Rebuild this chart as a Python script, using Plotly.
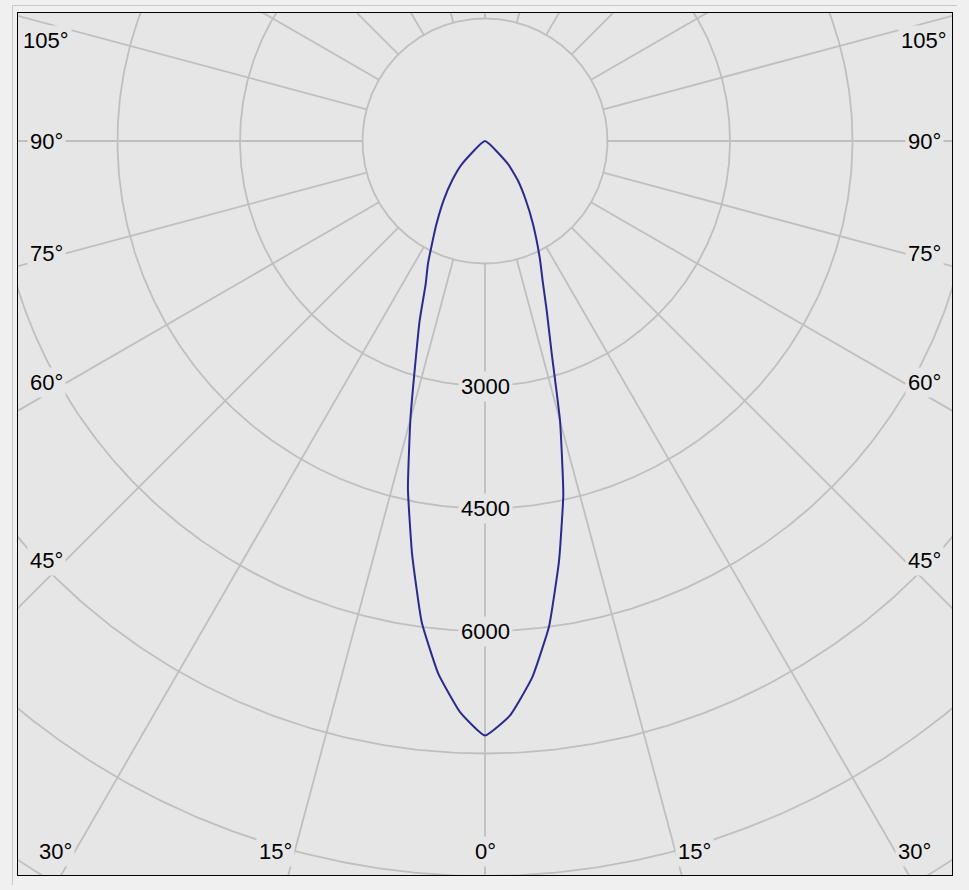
import numpy as np
import plotly.graph_objects as go

# ---- data ----
gamma_deg = [0, 2.5, 5, 7.5, 10, 12.5, 15, 17.5, 20, 22.5, 25, 30, 35, 40, 45, 50,
             60, 75, 90, 105, 120, 135, 150, 165, 180]
intensity_c0 = [7280, 7040, 6600, 6000, 5220, 4430, 3550, 2710, 2210, 1840, 1590, 1175,
                860, 620, 400, 0, 0, 0, 0, 0, 0, 0, 0, 0, 0]
intensity_c180 = [7280, 7000, 6550, 5940, 5140, 4360, 3530, 2830, 2340, 1900, 1650, 1200,
                  880, 620, 400, 0, 0, 0, 0, 0, 0, 0, 0, 0, 0]
ring_values = [1500, 3000, 4500, 6000, 7500, 9000, 10500]
ring_labels = [3000, 4500, 6000]
spoke_angles = list(range(0, 360, 15))
angle_labels = [0, 15, 30, 45, 60, 75, 90, 105]

# ---- styling / geometry ----
S = 1500 / 122.5            # cd per pixel
X_HALF = 467 * S
Y_TOP = 128 * S
Y_BOT = -734 * S
R_INNER = ring_values[0]
R_OUTER = 13000
BG = "#e6e6e6"
GRID = "#bfbfbf"
FONT = dict(family="Liberation Sans, Arial, sans-serif", size=22, color="#000000")

fig = go.Figure()

# rings
cx, cy = [], []
t = np.linspace(0, 2 * np.pi, 721)
for r in ring_values:
    cx += list(r * np.sin(t)) + [None]
    cy += list(-r * np.cos(t)) + [None]
fig.add_trace(go.Scatter(x=cx, y=cy, mode="lines", line=dict(color=GRID, width=1.8),
                         hoverinfo="skip", showlegend=False))

# spokes
sx, sy = [], []
for a in spoke_angles:
    g = np.radians(a)
    sx += [R_INNER * np.sin(g), R_OUTER * np.sin(g), None]
    sy += [-R_INNER * np.cos(g), -R_OUTER * np.cos(g), None]
fig.add_trace(go.Scatter(x=sx, y=sy, mode="lines", line=dict(color=GRID, width=1.8),
                         hoverinfo="skip", showlegend=False))

# intensity curve: C0 on the right, C180 on the left
g = np.radians(gamma_deg)
i0 = np.array(intensity_c0, dtype=float)
i180 = np.array(intensity_c180, dtype=float)
pts = list(zip(i0 * np.sin(g), -i0 * np.cos(g)))
pts += list(zip((-i180 * np.sin(g))[::-1], (-i180 * np.cos(g))[::-1]))
clean = []
for p in pts:
    if not clean or abs(p[0] - clean[-1][0]) > 1e-6 or abs(p[1] - clean[-1][1]) > 1e-6:
        clean.append(p)
fig.add_trace(go.Scatter(x=[p[0] for p in clean], y=[p[1] for p in clean], mode="lines",
                         line=dict(color="#2a2a8e", width=2, shape="spline", smoothing=0.4),
                         showlegend=False, hoverinfo="skip"))

annotations = []
# ring value labels on the 0° line
for v in ring_labels:
    annotations.append(dict(x=0, y=-v, xref="x", yref="y", text=str(v), showarrow=False,
                            font=FONT, bgcolor=BG, borderpad=2,
                            xanchor="center", yanchor="middle"))

# angle labels
x_side = X_HALF - 48 * S
y_bottom = Y_BOT + 24 * S
y_clamp = Y_TOP - 27 * S
for a in angle_labels:
    gr = np.radians(a)
    for side in ([1] if a == 0 else [-1, 1]):
        on_side = False
        if np.sin(gr) > 1e-9:
            r = x_side / np.sin(gr)
            y = -r * np.cos(gr)
            if y > y_bottom:
                on_side = True
        if on_side:
            y = min(y, y_clamp)
            x = side * (X_HALF - 28 * S)
            annotations.append(dict(x=x, y=y, xref="x", yref="y", text=f"{a}°",
                                    showarrow=False, font=FONT, bgcolor=BG, borderpad=2,
                                    xanchor="center", yanchor="middle"))
        else:
            r = -y_bottom / np.cos(gr)
            x = side * r * np.sin(gr)
            anchor = "center" if a == 0 else ("right" if side < 0 else "left")
            annotations.append(dict(x=x, y=y_bottom, xref="x", yref="y", text=f"{a}°",
                                    showarrow=False, font=FONT, bgcolor=BG, borderpad=2,
                                    xanchor=anchor, yanchor="middle"))

W, H = 969, 890
ML, MR, MT, MB = 18, 17, 13, 15
PW, PH = W - ML - MR, H - MT - MB
shapes = [
    dict(type="line", xref="paper", yref="paper",
         x0=(12.5 - ML) / PW, x1=(12.5 - ML) / PW,
         y0=(H - MB - 885) / PH, y1=(H - MB - 5.5) / PH,
         line=dict(color="#c8c8c8", width=1)),
    dict(type="line", xref="paper", yref="paper",
         x0=(12.5 - ML) / PW, x1=(957 - ML) / PW,
         y0=(H - MB - 5.5) / PH, y1=(H - MB - 5.5) / PH,
         line=dict(color="#c8c8c8", width=1)),
]

axis_common = dict(showgrid=False, zeroline=False, showticklabels=False, ticks="",
                   showline=True, mirror=True, linecolor="#000000", linewidth=1,
                   fixedrange=True)
fig.update_layout(
    width=W, height=H,
    margin=dict(l=ML, r=MR, t=MT, b=MB),
    paper_bgcolor="#f0f0f0", plot_bgcolor=BG,
    xaxis=dict(range=[-X_HALF, X_HALF], **axis_common),
    yaxis=dict(range=[Y_BOT, Y_TOP], **axis_common),
    annotations=annotations, shapes=shapes,
    showlegend=False,
)
fig.write_html(
    "out.html",
    config={"displayModeBar": False},
    post_script="document.body.style.margin='0';document.body.style.background='#f0f0f0';"
                "document.body.style.overflow='hidden';",
)
